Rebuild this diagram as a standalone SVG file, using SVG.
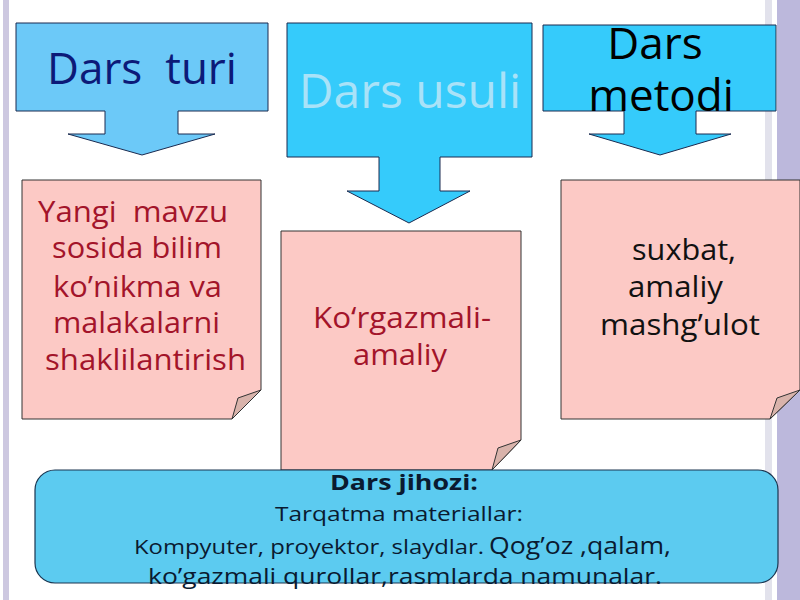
<svg xmlns="http://www.w3.org/2000/svg" width="800" height="600" viewBox="0 0 800 600">
<style>
.t{font-family:"Open Sans","Noto Sans","DejaVu Sans",sans-serif}
.call{stroke:#1a2a50;stroke-width:1}
.note{fill:#fcc9c5;stroke:#333;stroke-width:1}
.fold{fill:#d9b3ab;stroke:#333;stroke-width:1}
.red{fill:#a3142a;font-size:29px}
.blk{fill:#111;font-size:29px}
.mid{text-anchor:middle}
</style>
<rect width="800" height="600" fill="#ffffff"/>
<rect x="3" y="0" width="6" height="600" fill="#cdc8e0"/>
<rect x="765" y="0" width="7" height="600" fill="#e2e2ec"/>
<rect x="777" y="0" width="23" height="600" fill="#bcb8dc"/>

<g id="dars-turi">
<path class="call" d="M16,23 H268 V111 H178 V134 H215 L142,155 L68,134 H105 V111 H16 Z" fill="#6cc9f8"/>
<text class="t mid" x="142" y="84" font-size="44" fill="#0c1a78" xml:space="preserve">Dars  turi</text>
</g>
<g id="dars-usuli">
<path class="call" d="M287,23 H532 V157 H440 V191 H470 L409,223 L347,191 H379 V157 H287 Z" fill="#35cbfb"/>
<text class="t mid" x="410" y="108" font-size="48" fill="#a9e2f8">Dars usuli</text>
</g>
<g id="dars-metodi">
<path class="call" d="M543,25 H776 V111 H696 V134 H731 L660,155 L589,134 H624 V111 H543 Z" fill="#35cbfb"/>
<text class="t mid" x="655" y="59" font-size="44" fill="#000">Dars<tspan x="661" dy="52">metodi</tspan></text>
</g>

<g id="note-turi">
<path class="note" d="M22,180 H261 V390 L232,419 H22 Z"/>
<path class="fold" d="M261,390 L232,419 L238,398 Z"/>
<text class="t red" xml:space="preserve"><tspan x="38" y="222" textLength="190" lengthAdjust="spacingAndGlyphs">Yangi  mavzu</tspan><tspan x="52" y="258" textLength="170" lengthAdjust="spacingAndGlyphs">sosida bilim</tspan><tspan x="53" y="297" textLength="169" lengthAdjust="spacingAndGlyphs">ko’nikma va</tspan><tspan x="53" y="333" textLength="167" lengthAdjust="spacingAndGlyphs">malakalarni</tspan><tspan x="45" y="370" textLength="201" lengthAdjust="spacingAndGlyphs">shaklilantirish</tspan></text>
</g>
<g id="note-usuli">
<path class="note" d="M281,231 H521 V440 L492,470 H281 Z"/>
<path class="fold" d="M521,440 L492,470 L498,448 Z"/>
<text class="t red"><tspan x="313" y="328" textLength="178" lengthAdjust="spacingAndGlyphs">Ko‘rgazmali-</tspan><tspan x="353" y="365" textLength="94" lengthAdjust="spacingAndGlyphs">amaliy</tspan></text>
</g>
<g id="note-metodi">
<path class="note" d="M561,180 H800 V390 L770,419 H561 Z"/>
<path class="fold" d="M800,390 L770,419 L777,398 Z"/>
<text class="t blk"><tspan x="632" y="260" textLength="104" lengthAdjust="spacingAndGlyphs">suxbat,</tspan><tspan x="628" y="297" textLength="95" lengthAdjust="spacingAndGlyphs">amaliy</tspan><tspan x="600" y="335" textLength="160" lengthAdjust="spacingAndGlyphs">mashg’ulot</tspan></text>
</g>

<g id="dars-jihozi">
<rect x="35" y="470" width="743" height="113" rx="20" ry="20" fill="#5ccbf0" stroke="#1a3550" stroke-width="1.2"/>
<text class="t mid" x="404" y="490" font-size="21" font-weight="bold" fill="#0a1a30" textLength="148" lengthAdjust="spacingAndGlyphs">Dars jihozi:</text>
<text class="t" x="275" y="521" font-size="20" fill="#0a1a30" textLength="248" lengthAdjust="spacingAndGlyphs">Tarqatma materiallar:</text>
<text class="t" y="554" fill="#0a1a30"><tspan x="134" font-size="20" textLength="350" lengthAdjust="spacingAndGlyphs">Kompyuter, proyektor, slaydlar.</tspan><tspan x="489" font-size="23" textLength="182" lengthAdjust="spacingAndGlyphs">Qog’oz ,qalam,</tspan></text>
<text class="t" x="148" y="584" font-size="22" fill="#0a1a30" textLength="514" lengthAdjust="spacingAndGlyphs">ko’gazmali qurollar,rasmlarda namunalar.</text>
</g>
</svg>
